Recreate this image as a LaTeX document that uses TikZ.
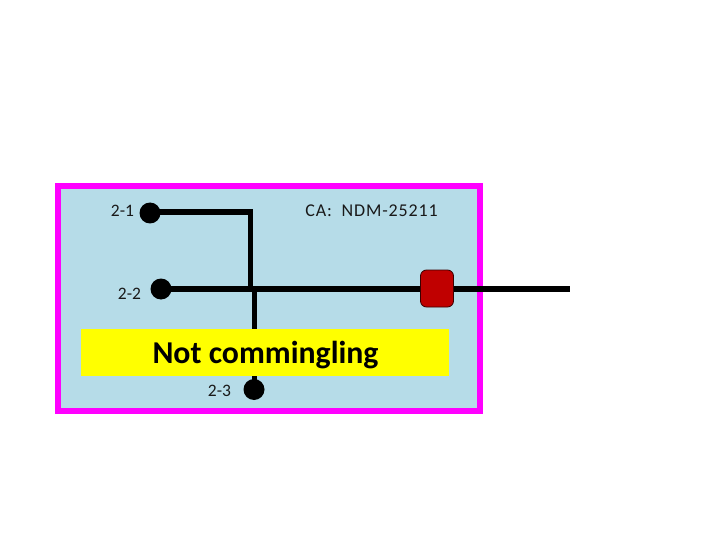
\documentclass[tikz,border=0pt]{standalone}
\usepackage{fontspec}
\setmainfont{Carlito}
\definecolor{panelblue}{RGB}{182,220,232}
\definecolor{edgepink}{RGB}{255,0,255}
\definecolor{valvered}{RGB}{192,0,0}
\definecolor{bannery}{RGB}{255,255,0}
\tikzset{
  dot/.style={circle,fill=black,draw=none,minimum size=21pt,inner sep=0pt},
  pipe/.style={draw=black,line width=5.6pt,line cap=butt,line join=miter},
  lbl/.style={inner sep=0pt,text=black!90,font=\fontsize{17.5}{19}\selectfont},
}
\begin{document}
\begin{tikzpicture}[x=1pt,y=-1pt]
\useasboundingbox (0,0) rectangle (720,540);
\node[draw=edgepink,line width=6pt,fill=panelblue,minimum width=422pt,minimum height=225pt,outer sep=0pt,inner sep=0pt,anchor=north west] (panel) at (58,186) {};
\coordinate (corner) at (250.5,212);
\coordinate (junction) at (250.5,289);
\coordinate (junctionb) at (254.5,289);
\coordinate (outlet) at (570,289);
\node[dot] (d1) at (150,213) {};
\node[dot] (d2) at (161,289) {};
\node[dot] (d3) at (254,389.5) {};
\draw[pipe] (d1.center |- corner) -- (corner) -- (junction);
\draw[pipe] (d2.center) -- (outlet);
\draw[pipe] (junctionb) -- (d3.center -| junctionb);
\node[fill=bannery,minimum width=368pt,minimum height=47pt,inner sep=0pt,outer sep=0pt,anchor=north west] (banner) at (81,329) {};
\node[inner sep=0pt,font=\fontsize{31.8}{34}\selectfont\bfseries,anchor=base] (title) at (265.5,363) {Not commingling};
\node[draw=black!70!valvered,line width=0.8pt,fill=valvered,rounded corners=6pt,minimum width=33pt,minimum height=37pt,inner sep=0pt] (valve) at (437,288.5) {};
\node[lbl,anchor=base] (l1) at (122.5,216) {2-1};
\node[lbl,anchor=base] (l2) at (129.5,299) {2-2};
\node[lbl,anchor=base] (l3) at (219.5,396) {2-3};
\node[lbl,anchor=base,font=\fontsize{18}{20}\selectfont\addfontfeatures{LetterSpace=4.7}] (ca) at (371.5,217) {CA:\ \ NDM-25211};
\end{tikzpicture}
\end{document}
